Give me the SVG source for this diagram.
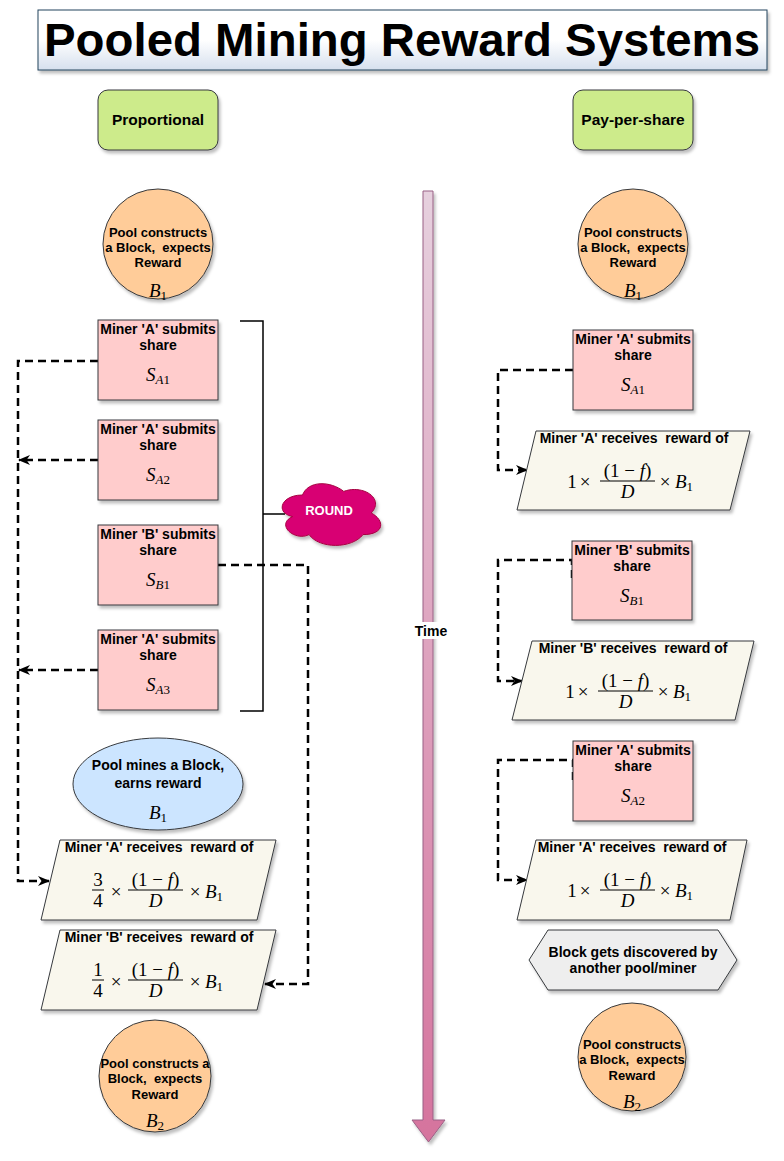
<svg xmlns="http://www.w3.org/2000/svg" width="784" height="1161" viewBox="0 0 784 1161">
<defs>
<style>
.t{font-family:"Liberation Sans",Arial,sans-serif;font-weight:bold;font-size:14px;fill:#000;text-anchor:middle;white-space:pre}
.c{font-size:13px}
.m{font-family:"Liberation Serif","Times New Roman",serif;font-size:19px;fill:#000;text-anchor:middle;white-space:pre}
.ms{font-family:"Liberation Serif","Times New Roman",serif;font-size:19px;fill:#000}
.i{font-style:italic}
.sub{font-size:13px}
.sq{fill:#ffcccc;stroke:#36393d;stroke-width:1}
.ci{fill:#ffcc99;stroke:#36393d;stroke-width:1}
.pg{fill:#f9f7ed;stroke:#36393d;stroke-width:1}
.gr{fill:#cdeb8b;stroke:#36393d;stroke-width:1}
.bar{stroke:#000;stroke-width:1}
.dash{fill:none;stroke:#000;stroke-width:2.5;stroke-dasharray:8 5}
</style>
<filter id="sh" x="-10%" y="-10%" width="130%" height="130%">
<feDropShadow dx="2" dy="3" stdDeviation="1.5" flood-color="#000" flood-opacity="0.25"/>
</filter>
<linearGradient id="tg" x1="0" y1="0" x2="0" y2="1">
<stop offset="0" stop-color="#ffffff"/>
<stop offset="0.5" stop-color="#ffffff"/>
<stop offset="1" stop-color="#d6e0ee"/>
</linearGradient>
<linearGradient id="ag" x1="0" y1="0" x2="0" y2="1">
<stop offset="0" stop-color="#e6d0de"/>
<stop offset="1" stop-color="#d5739d"/>
</linearGradient>
<marker id="arr" viewBox="0 0 12 12" refX="11" refY="6" markerWidth="12" markerHeight="12" markerUnits="userSpaceOnUse" orient="auto">
<path d="M0,1 L12,6 L0,11 L3.5,6 Z" fill="#000"/>
</marker>
</defs>
<rect x="0" y="0" width="784" height="1161" fill="#ffffff"/>

<g id="title">
<rect x="38" y="10" width="729" height="60" fill="url(#tg)" stroke="#23445d" stroke-width="1" filter="url(#sh)"/>
<text x="402" y="56" font-family="Liberation Sans,Arial,sans-serif" font-weight="bold" font-size="47" text-anchor="middle" textLength="716" lengthAdjust="spacingAndGlyphs">Pooled Mining Reward Systems</text>
</g>

<g id="proportional">
<rect x="98" y="90" width="120" height="60" rx="10" class="gr" filter="url(#sh)"/>
<text x="158" y="125" class="t" style="font-size:15.5px">Proportional</text>
</g>
<g id="pay-per-share">
<rect x="573" y="90" width="120" height="60" rx="10" class="gr" filter="url(#sh)"/>
<text x="633" y="125" class="t" style="font-size:15.5px">Pay-per-share</text>
</g>

<g id="time-arrow">
<path d="M423,191 L433,191 L433,1120 L445,1120 L428.5,1142 L412,1120 L423,1120 Z" fill="url(#ag)" stroke="#996185" stroke-width="1" filter="url(#sh)"/>
<rect x="412" y="622" width="38" height="17" fill="#ffffff"/>
<text x="431" y="636" class="t" style="font-size:14px">Time</text>
</g>

<g id="connectors">
<path class="dash" d="M98,361 L18,361 L18,881 L49,881" marker-end="url(#arr)"/>
<path class="dash" d="M98,460 L19,460" marker-end="url(#arr)"/>
<path class="dash" d="M98,670 L19,670" marker-end="url(#arr)"/>
<path class="dash" d="M218,565 L308,565 L308,984 L265,984" marker-end="url(#arr)"/>
<path class="dash" d="M573,370 L498,370 L498,470 L527,470" marker-end="url(#arr)"/>
<path class="dash" d="M572,578 L572,560 L498,560 L498,681 L522,681" marker-end="url(#arr)"/>
<path class="dash" d="M573,780 L573,760 L498,760 L498,880 L527,880" marker-end="url(#arr)"/>
<path d="M240,321 L263,321 L263,711 L240,711 M263,514 L285,514" fill="none" stroke="#000" stroke-width="1.5"/>
</g>

<g id="round">
<path d="M302.5,495 C280.5,495 275,513 292.6,516.6 C275,524.5 294.8,541.8 309.1,534.6 C319,549 352,549 363,534.6 C385,534.6 385,520.2 371.25,513 C385,498.6 363,484.2 343.75,491.4 C330,480.6 308,480.6 302.5,495 Z" fill="#d80073" stroke="#a50040" stroke-width="1" filter="url(#sh)"/>
<text x="329" y="515" class="t" style="fill:#ffffff;font-size:13px">ROUND</text>
</g>

<!-- Left column -->
<g id="l-pool-b1">
<circle cx="158" cy="244" r="55" class="ci" filter="url(#sh)"/>
<text x="158" y="237" class="t c">Pool constructs</text>
<text x="158" y="252" class="t c">a Block,  expects</text>
<text x="158" y="267" class="t c">Reward</text>
<text x="158" y="297" class="m"><tspan class="i">B</tspan><tspan class="sub" dy="3">1</tspan></text>
</g>

<g id="l-sa1">
<rect x="98" y="320" width="120" height="80" class="sq" filter="url(#sh)"/>
<text x="158" y="334" class="t">Miner 'A' submits</text>
<text x="158" y="350" class="t">share</text>
<text x="158" y="381" class="m"><tspan class="i">S</tspan><tspan class="sub i" dy="3">A</tspan><tspan class="sub">1</tspan></text>
</g>
<g id="l-sa2">
<rect x="98" y="420" width="120" height="80" class="sq" filter="url(#sh)"/>
<text x="158" y="434" class="t">Miner 'A' submits</text>
<text x="158" y="450" class="t">share</text>
<text x="158" y="481" class="m"><tspan class="i">S</tspan><tspan class="sub i" dy="3">A</tspan><tspan class="sub">2</tspan></text>
</g>
<g id="l-sb1">
<rect x="98" y="525" width="120" height="80" class="sq" filter="url(#sh)"/>
<text x="158" y="539" class="t">Miner 'B' submits</text>
<text x="158" y="555" class="t">share</text>
<text x="158" y="586" class="m"><tspan class="i">S</tspan><tspan class="sub i" dy="3">B</tspan><tspan class="sub">1</tspan></text>
</g>
<g id="l-sa3">
<rect x="98" y="630" width="120" height="80" class="sq" filter="url(#sh)"/>
<text x="158" y="644" class="t">Miner 'A' submits</text>
<text x="158" y="660" class="t">share</text>
<text x="158" y="691" class="m"><tspan class="i">S</tspan><tspan class="sub i" dy="3">A</tspan><tspan class="sub">3</tspan></text>
</g>

<g id="l-mined">
<ellipse cx="158" cy="784" rx="85" ry="46" fill="#cce5ff" stroke="#36393d" stroke-width="1" filter="url(#sh)"/>
<text x="158" y="770" class="t">Pool mines a Block,</text>
<text x="158" y="788" class="t">earns reward</text>
<text x="158" y="819" class="m"><tspan class="i">B</tspan><tspan class="sub" dy="3">1</tspan></text>
</g>

<g id="l-reward-a">
<polygon points="60,840 276,840 257,920 41,920" class="pg" filter="url(#sh)"/>
<text x="159" y="852" class="t">Miner 'A' receives  reward of</text>
<text x="98" y="886" class="m">3</text>
<line x1="92" y1="890" x2="104" y2="890" class="bar"/>
<text x="98" y="907" class="m">4</text>
<text x="116" y="898" class="m">×</text>
<text x="155.5" y="886" class="m">(1 − <tspan class="i">f</tspan>)</text>
<line x1="128" y1="890" x2="183" y2="890" class="bar"/>
<text x="155.5" y="907" class="m i">D</text>
<text x="195" y="898" class="m">×</text>
<text x="205" y="898" class="ms"><tspan class="i">B</tspan><tspan class="sub" dy="3">1</tspan></text>
</g>

<g id="l-reward-b">
<polygon points="60,930 276,930 257,1010 41,1010" class="pg" filter="url(#sh)"/>
<text x="159" y="942" class="t">Miner 'B' receives  reward of</text>
<text x="98" y="976" class="m">1</text>
<line x1="92" y1="980" x2="104" y2="980" class="bar"/>
<text x="98" y="997" class="m">4</text>
<text x="116" y="988" class="m">×</text>
<text x="155.5" y="976" class="m">(1 − <tspan class="i">f</tspan>)</text>
<line x1="128" y1="980" x2="183" y2="980" class="bar"/>
<text x="155.5" y="997" class="m i">D</text>
<text x="195" y="988" class="m">×</text>
<text x="205" y="988" class="ms"><tspan class="i">B</tspan><tspan class="sub" dy="3">1</tspan></text>
</g>

<g id="l-pool-b2">
<circle cx="155" cy="1076" r="56" class="ci" filter="url(#sh)"/>
<text x="155" y="1068" class="t c">Pool constructs a</text>
<text x="155" y="1083" class="t c">Block,  expects</text>
<text x="155" y="1099" class="t c">Reward</text>
<text x="155" y="1127" class="m"><tspan class="i">B</tspan><tspan class="sub" dy="3">2</tspan></text>
</g>

<!-- Right column -->
<g id="r-pool-b1">
<circle cx="633" cy="244" r="55" class="ci" filter="url(#sh)"/>
<text x="633" y="237" class="t c">Pool constructs</text>
<text x="633" y="252" class="t c">a Block,  expects</text>
<text x="633" y="267" class="t c">Reward</text>
<text x="633" y="297" class="m"><tspan class="i">B</tspan><tspan class="sub" dy="3">1</tspan></text>
</g>

<g id="r-sa1">
<rect x="573" y="330" width="120" height="80" class="sq" filter="url(#sh)"/>
<text x="633" y="344" class="t">Miner 'A' submits</text>
<text x="633" y="360" class="t">share</text>
<text x="633" y="391" class="m"><tspan class="i">S</tspan><tspan class="sub i" dy="3">A</tspan><tspan class="sub">1</tspan></text>
</g>
<g id="r-reward-a1">
<polygon points="536,431 750,431 730,510 517,510" class="pg" filter="url(#sh)"/>
<text x="634" y="443" class="t">Miner 'A' receives  reward of</text>
<text x="572" y="488" class="m">1</text>
<text x="585" y="488" class="m">×</text>
<text x="627.5" y="477" class="m">(1 − <tspan class="i">f</tspan>)</text>
<line x1="600" y1="481" x2="655" y2="481" class="bar"/>
<text x="665" y="488" class="m">×</text>
<text x="627.5" y="498" class="m i">D</text>
<text x="675" y="488" class="ms"><tspan class="i">B</tspan><tspan class="sub" dy="3">1</tspan></text>
</g>

<g id="r-sb1">
<rect x="572" y="541" width="120" height="79" class="sq" filter="url(#sh)"/>
<text x="632" y="555" class="t">Miner 'B' submits</text>
<text x="632" y="571" class="t">share</text>
<text x="632" y="602" class="m"><tspan class="i">S</tspan><tspan class="sub i" dy="3">B</tspan><tspan class="sub">1</tspan></text>
</g>
<g id="r-reward-b1">
<polygon points="532,641 754,641 735,720 512,720" class="pg" filter="url(#sh)"/>
<text x="633" y="653" class="t">Miner 'B' receives  reward of</text>
<text x="570" y="698" class="m">1</text>
<text x="583" y="698" class="m">×</text>
<text x="625.5" y="687" class="m">(1 − <tspan class="i">f</tspan>)</text>
<line x1="598" y1="691" x2="653" y2="691" class="bar"/>
<text x="625.5" y="708" class="m i">D</text>
<text x="663" y="698" class="m">×</text>
<text x="673" y="698" class="ms"><tspan class="i">B</tspan><tspan class="sub" dy="3">1</tspan></text>
</g>

<g id="r-sa2">
<rect x="573" y="741" width="120" height="80" class="sq" filter="url(#sh)"/>
<text x="633" y="755" class="t">Miner 'A' submits</text>
<text x="633" y="771" class="t">share</text>
<text x="633" y="802" class="m"><tspan class="i">S</tspan><tspan class="sub i" dy="3">A</tspan><tspan class="sub">2</tspan></text>
</g>
<g id="r-reward-a2">
<polygon points="536,840 747,840 730,920 517,920" class="pg" filter="url(#sh)"/>
<text x="632" y="852" class="t">Miner 'A' receives  reward of</text>
<text x="572" y="897" class="m">1</text>
<text x="585" y="897" class="m">×</text>
<text x="627.5" y="886" class="m">(1 − <tspan class="i">f</tspan>)</text>
<line x1="600" y1="890" x2="655" y2="890" class="bar"/>
<text x="627.5" y="907" class="m i">D</text>
<text x="665" y="897" class="m">×</text>
<text x="675" y="897" class="ms"><tspan class="i">B</tspan><tspan class="sub" dy="3">1</tspan></text>
</g>

<g id="r-other-pool">
<polygon points="529,960 548,930 718,930 737,960 718,990 548,990" fill="#eeeeee" stroke="#36393d" stroke-width="1" filter="url(#sh)"/>
<text x="633" y="957" class="t">Block gets discovered by</text>
<text x="633" y="973" class="t">another pool/miner</text>
</g>

<g id="r-pool-b2">
<circle cx="632" cy="1057" r="54" class="ci" filter="url(#sh)"/>
<text x="632" y="1049" class="t c">Pool constructs</text>
<text x="632" y="1064" class="t c">a Block,  expects</text>
<text x="632" y="1080" class="t c">Reward</text>
<text x="632" y="1108" class="m"><tspan class="i">B</tspan><tspan class="sub" dy="3">2</tspan></text>
</g>
</svg>
